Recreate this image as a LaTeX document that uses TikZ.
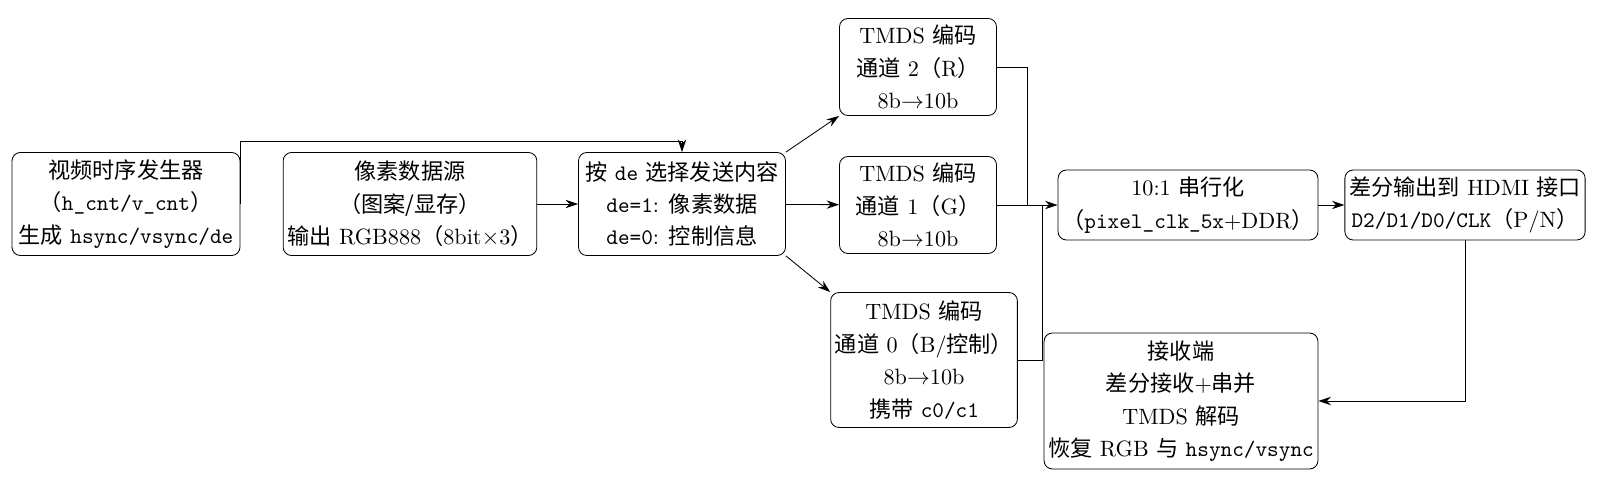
\documentclass[tikz,border=0pt]{standalone}
\usepackage{fontspec}
\newfontfamily\cjk{Noto Sans CJK SC}
\newcommand{\zh}[1]{{\cjk #1}}
\usetikzlibrary{arrows.meta}
\begin{document}
\begin{tikzpicture}[x=0.0168cm,y=-0.0168cm,
 blk/.style={draw,rounded corners=4pt,align=center,inner sep=2pt,
  font=\fontsize{10.6}{15}\selectfont,
  execute at begin node={\setlength{\baselineskip}{15.5pt}}},
 >={Stealth[length=6pt,width=4pt]}]
 \useasboundingbox (0,0) rectangle (1615,485);
 % source side
 \node[blk,minimum width=228*0.0168cm,minimum height=103*0.0168cm] (gen) at (126,204)
  {\zh{视频时序发生器}\\\zh{（}\texttt{h\_cnt/v\_cnt}\zh{）}\\\zh{生成} \texttt{hsync/vsync/de}};
 \node[blk,minimum width=232*0.0168cm,minimum height=103*0.0168cm] (src) at (410,204)
  {\zh{像素数据源}\\\zh{（图案/显存）}\\\zh{输出} RGB888\zh{（}8bit$\times$3\zh{）}};
 \node[blk,minimum width=207*0.0168cm,minimum height=103*0.0168cm] (sel) at (682,204)
  {\zh{按} \texttt{de} \zh{选择发送内容}\\\texttt{de=1}: \zh{像素数据}\\\texttt{de=0}: \zh{控制信息}};
 % encoders
 \node[blk,minimum width=157*0.0168cm,minimum height=97*0.0168cm] (ch2) at (918,67)
  {TMDS \zh{编码}\\\zh{通道} 2\zh{（}R\zh{）}\\8b$\to$10b};
 \node[blk,minimum width=157*0.0168cm,minimum height=97*0.0168cm] (ch1) at (918,205)
  {TMDS \zh{编码}\\\zh{通道} 1\zh{（}G\zh{）}\\8b$\to$10b};
 \node[blk,minimum width=169*0.0168cm,minimum height=135*0.0168cm] (ch0) at (924,360)
  {TMDS \zh{编码}\\\zh{通道} 0\zh{（}B/\zh{控制）}\\8b$\to$10b\\\zh{携带} \texttt{c0/c1}};
 % output side
 \node[blk,minimum width=215*0.0168cm,minimum height=70*0.0168cm] (ser) at (1188,205)
  {10:1 \zh{串行化}\\\zh{（}\texttt{pixel\_clk\_5x}+DDR\zh{）}};
 \node[blk,minimum width=238*0.0168cm,minimum height=70*0.0168cm] (hdmi) at (1465,205)
  {\zh{差分输出到} HDMI \zh{接口}\\\texttt{D2/D1/D0/CLK}\zh{（}P/N\zh{）}};
 \node[blk,minimum width=271*0.0168cm,minimum height=136*0.0168cm] (rx) at (1181,401)
  {\zh{接收端}\\\zh{差分接收}+\zh{串并}\\TMDS \zh{解码}\\\zh{恢复} RGB \zh{与} \texttt{hsync/vsync}};
 \coordinate (top) at (0,141);
 \coordinate (bus2) at (1027,0);
 \coordinate (bus0) at (1042,0);
 \draw[->] (gen.east) |- (top -| sel.north) -- (sel.north);
 \draw[->] (src) -- (sel);
 \draw[->] (sel.north east) -- (ch2.south west);
 \draw[->] (sel) -- (ch1);
 \draw[->] (sel.south east) -- (ch0.north west);
 \draw (ch2.east) -| (bus2 |- ch1.east);
 \draw[->] (ch1.east) -- (ser.west);
 \draw (ch0.east) -| (bus0 |- ser.west);
 \draw[->] (ser) -- (hdmi);
 \draw[->] (hdmi.south) |- (rx.east);
\end{tikzpicture}
\end{document}
